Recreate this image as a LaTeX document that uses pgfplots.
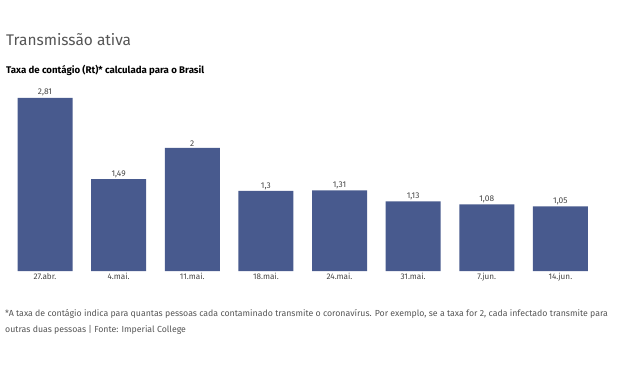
\documentclass[border=0pt]{standalone}
\usepackage{pgfplots}
\pgfplotsset{compat=1.18}
\usepackage{fontspec}
\setmainfont{Fira Sans}
\definecolor{barblue}{RGB}{72,90,142}
\definecolor{txtgray}{RGB}{85,85,85}
\definecolor{lblgray}{RGB}{70,70,70}
\begin{document}
\begin{tikzpicture}[x=1bp,y=1bp]
\useasboundingbox (0,0) rectangle (630,374);
\node[anchor=west,text=txtgray,font=\fontsize{15.5}{18}\selectfont,inner sep=0pt] at (6,334) {Transmissão ativa};
\node[anchor=west,text=black,font=\bfseries\fontsize{9.7}{11}\selectfont,inner sep=0pt] at (6,304) {Taxa de contágio (Rt)* calculada para o Brasil};
\begin{axis}[
  at={(8.2bp,103bp)}, anchor=south west,
  scale only axis, width=589bp, height=184.8bp,
  xmin=-0.5, xmax=7.5, ymin=0, ymax=3,
  axis line style={draw=none},
  ytick=\empty,
  xtick=data,
  xticklabels={27.abr.,4.mai.,11.mai.,18.mai.,24.mai.,31.mai.,7.jun.,14.jun.},
  major tick length=0pt,
  xticklabel style={text=lblgray,font=\fontsize{8.2}{9}\selectfont,yshift=1pt},
  ybar, bar width=55bp,
  nodes near coords,
  point meta=explicit symbolic,
  every node near coord/.append style={text=lblgray,font=\fontsize{8.4}{9}\selectfont,yshift=-2pt},
  clip=false,
]
\addplot[fill=barblue,draw=none] table[meta=lab] {
x y lab
0 2.81 {2,81}
1 1.49 {1,49}
2 2 {2}
3 1.3 {1,3}
4 1.31 {1,31}
5 1.13 {1,13}
6 1.08 {1,08}
7 1.05 {1,05}
};
\end{axis}
\node[anchor=north west,text=txtgray,align=left,font=\fontsize{8.8}{16}\selectfont,inner sep=0pt] at (5,65) {*A taxa de contágio indica para quantas pessoas cada contaminado transmite o coronavírus. Por exemplo, se a taxa for 2, cada infectado transmite para\\outras duas pessoas | Fonte: Imperial College};
\end{tikzpicture}
\end{document}
